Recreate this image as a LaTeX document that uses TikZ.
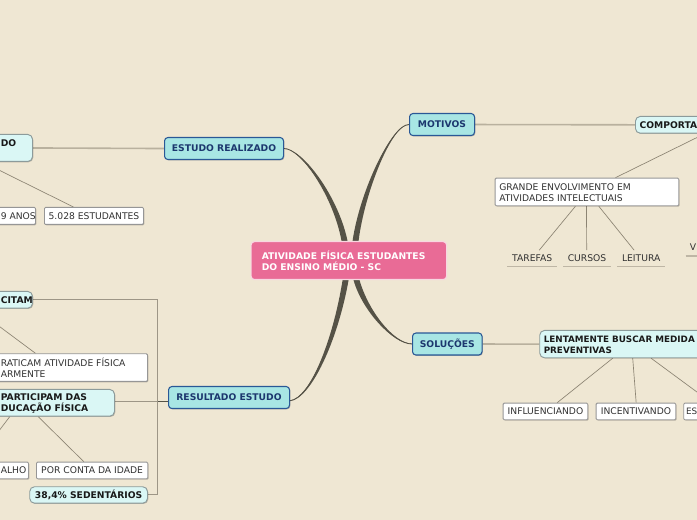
\documentclass[tikz,border=0pt]{standalone}
\usepackage{fontspec}
\setmainfont{DejaVu Sans}
\usetikzlibrary{calc,shadows}
\definecolor{bgc}{RGB}{239,231,211}
\definecolor{primf}{RGB}{168,230,228}
\definecolor{primb}{RGB}{42,88,150}
\definecolor{primt}{RGB}{28,55,110}
\definecolor{secf}{RGB}{218,247,245}
\definecolor{secb}{RGB}{140,155,155}
\definecolor{leafb}{RGB}{150,150,150}
\definecolor{leaft}{RGB}{50,50,50}
\definecolor{cenf}{RGB}{233,107,150}
\definecolor{cenb}{RGB}{248,215,225}
\definecolor{curvec}{RGB}{85,82,70}
\definecolor{thinc}{RGB}{140,132,115}
\definecolor{mainc}{RGB}{185,177,158}
\definecolor{ulc}{RGB}{190,182,165}
\pgfdeclarelayer{back}\pgfdeclarelayer{lines}\pgfsetlayers{back,lines,main}
\newcommand\bx[6]{\node[#2, anchor=north west, minimum width={(#5-#3)*0.75pt}, minimum height={(#6-#4)*0.75pt}, inner sep=0pt] (#1) at (#3,#4) {};}
\tikzset{
 shd/.style={drop shadow={shadow xshift=0.6pt,shadow yshift=-0.6pt,opacity=0.22,fill=black}},
 prim/.style={draw=primb, fill=primf, line width=0.8pt, rounded corners=2.5pt, shd},
 sec/.style={draw=secb, fill=secf, line width=0.7pt, rounded corners=3.5pt, shd},
 leaf/.style={draw=leafb, fill=white, line width=0.7pt, rounded corners=0.8pt, shd},
 cen/.style={draw=cenb, fill=cenf, line width=0.9pt, rounded corners=2.5pt},
 tp/.style={font=\fontsize{6.9}{8.3}\selectfont\bfseries, text=primt, inner sep=0pt},
 ts/.style={font=\fontsize{6.9}{8.3}\selectfont\bfseries, text=black!90, inner sep=0pt, align=left},
 tl/.style={font=\fontsize{6.9}{8.3}\selectfont, text=leaft, inner sep=0pt, align=left},
 tc/.style={font=\fontsize{6.9}{8.3}\selectfont\bfseries, text=white, inner sep=0pt, align=left},
 thinl/.style={draw=thinc, line width=0.5pt},
 mainl/.style={draw=mainc, line width=1.2pt},
 brk/.style={draw=mainc!85!black, line width=0.8pt},
 ull/.style={draw=ulc, line width=0.8pt},
 uleaf/.style={font=\fontsize{6.9}{8.3}\selectfont, text=leaft, inner sep=0pt, minimum height={16*0.75pt}},
}
\begin{document}
\begin{tikzpicture}[x=0.75pt,y=-0.75pt]
\useasboundingbox (0,0) rectangle (697,520);
\clip (0,0) rectangle (697,520);
\begin{pgfonlayer}{back}
\fill[bgc] (-10,-10) rectangle (710,530);
\end{pgfonlayer}

% central and main topics
\bx{c}{cen}{250.5}{241}{446}{279}
\node[tc, anchor=west] (ct) at (261.5,261) {ATIVIDADE FÍSICA ESTUDANTES\\DO ENSINO MÉDIO - SC};
\bx{er}{prim}{164}{137}{283}{159}
\node[tp] (ert) at (er.center) {ESTUDO REALIZADO};
\bx{mot}{prim}{409}{113}{474}{135}
\node[tp] (mott) at (mot.center) {MOTIVOS};
\bx{sol}{prim}{412}{332.5}{481.5}{354.5}
\node[tp] (solt) at (sol.center) {SOLUÇÕES};
\bx{res}{prim}{168}{386}{289}{408}
\node[tp] (rest) at (res.center) {RESULTADO ESTUDO};

% left upper
\bx{do}{sec}{-40}{134}{32}{161}
\node[ts, anchor=west] (dot) at (0.5,143.3) {DO};
\bx{anos}{leaf}{-40}{207}{35}{224}
\node[tl, anchor=west] (anost) at (0.5,216) {9 ANOS};
\bx{est}{leaf}{44}{207}{143}{224}
\node[tl] (estt) at (est.center) {5.028 ESTUDANTES};

% left lower
\bx{cit}{sec}{-40}{291}{32}{307.7}
\node[ts, anchor=west] (citt) at (0.5,300) {CITAM};
\bx{nao}{leaf}{-40}{353.3}{147}{381}
\node[tl, anchor=west] (naot) at (0.5,367.8) {RATICAM ATIVIDADE FÍSICA\\ARMENTE};
\bx{par}{sec}{-40}{389}{114}{415.7}
\node[ts, anchor=west] (part) at (0.5,403.3) {PARTICIPAM DAS\\DUCAÇÃO FÍSICA};
\bx{alho}{leaf}{-40}{461.7}{28}{478.3}
\node[tl, anchor=west] (alhot) at (0.5,470) {ALHO};
\bx{idade}{leaf}{36}{461.7}{147.3}{478.3}
\node[tl] (idadet) at (idade.center) {POR CONTA DA IDADE};
\bx{sed}{sec}{29.3}{486.3}{147}{502.7}
\node[ts] (sedt) at (sed.center) {38,4\% SEDENTÁRIOS};

% right upper
\bx{comp}{sec}{635}{116}{760}{132.7}
\node[ts, anchor=west] (compt) at (639.3,125) {COMPORTA};
\bx{gr}{leaf}{494.7}{177.7}{678.3}{205.3}
\node[tl, anchor=west] (grt) at (499,192.7) {GRANDE ENVOLVIMENTO EM\\ATIVIDADES INTELECTUAIS};
\node[uleaf, minimum width={49*0.75pt}] (tar) at (532.2,258.5) {TAREFAS};
\node[uleaf, minimum width={47.4*0.75pt}] (cur) at (587,258.5) {CURSOS};
\node[uleaf, minimum width={47.7*0.75pt}] (lei) at (641.2,258.5) {LEITURA};
\node[uleaf, anchor=south west, minimum width={60*0.75pt}] (vv) at (685.7,256) {};
\node[tl, anchor=west] (vvt) at (689.5,247.5) {V};

% right lower
\bx{len}{sec}{539.3}{330}{760}{357.3}
\node[ts, anchor=west, font=\fontsize{6.6}{8.3}\selectfont\bfseries] (lent) at (543.5,344.5) {LENTAMENTE BUSCAR MEDIDA\\PREVENTIVAS};
\bx{inf}{leaf}{502.7}{402.7}{587.3}{419.3}
\node[tl] (inft) at (inf.center) {INFLUENCIANDO};
\bx{inc}{leaf}{595.7}{402.7}{675.3}{419.3}
\node[tl] (inct) at (inc.center) {INCENTIVANDO};
\bx{es}{leaf}{683.3}{402.7}{760}{419.3}
\node[tl, anchor=west, font=\fontsize{6.6}{8.3}\selectfont] (est2) at (685.8,411) {ES};

\begin{pgfonlayer}{lines}
% tapered main branches
\fill[curvec] (er.east) .. controls (300,148) and (333,195) .. ($(c.north)+(-7.3,0)$)
  -- ($(c.north)+(-1.3,0)$) .. controls (338,195) and (301,147) .. ($(er.east)+(0,0.4)$) -- cycle;
\fill[curvec] (mot.west) .. controls (392,124) and (360,190) .. ($(c.north)+(3.7,0)$)
  -- ($(c.north)+(9.7,0)$) .. controls (365,190) and (393,123) .. ($(mot.west)+(0,0.4)$) -- cycle;
\fill[curvec] (sol.west) .. controls (392,343.5) and (362,310) .. ($(c.south)+(4.7,0)$)
  -- ($(c.south)+(10.7,0)$) .. controls (368,310) and (393,343) .. ($(sol.west)+(0,-0.4)$) -- cycle;
\fill[curvec] ($(res.east)+(0,3)$) .. controls (310,398) and (333,340) .. ($(c.south)+(-6.3,0)$)
  -- ($(c.south)+(-0.3,0)$) .. controls (338,340) and (311,399) .. ($(res.east)+(0,3.4)$) -- cycle;
\draw[curvec, line width=0.6pt] (er.east) .. controls (300,148) and (335,195) .. ($(c.north)+(-4.3,0)$);
\draw[curvec, line width=0.6pt] (mot.west) .. controls (392,124) and (362,190) .. ($(c.north)+(6.7,0)$);
\draw[curvec, line width=0.6pt] (sol.west) .. controls (392,343.5) and (365,310) .. ($(c.south)+(7.7,0)$);
\draw[curvec, line width=0.6pt] ($(res.east)+(0,3.2)$) .. controls (310,398.5) and (335,340) .. ($(c.south)+(-3.3,0)$);

% sub-topic connectors
\draw[mainl] (er.west) -- (do.east);
\draw[mainl] (mot.east) -- (comp.west);
\draw[mainl] (sol.east) -- (len.west);
\draw[thinl] ($(do.south)+(-14,0)$) -- ($(est.north)+(-20.5,0)$);
\draw[thinl] ($(cit.south)+(-21,0)$) -- ($(nao.north)+(-18.5,0)$);
\draw[thinl] ($(par.south)+(-27.7,0)$) -- ($(alho.north)+(-19,0)$);
\draw[thinl] ($(par.south)+(0.7,0)$) -- ($(idade.north)+(-8.3,0)$);
\draw[thinl] ($(comp.south)+(6.9,0)$) -- ($(gr.north)+(28.5,0)$);
\draw[thinl] ($(gr.south)+(-11.5,0)$) -- ($(tar.north)+(7,0)$);
\draw[thinl] ($(gr.south)+(-0.5,0)$) -- ($(cur.north)+(-0.3,0)$);
\draw[thinl] ($(gr.south)+(11.8,0)$) -- ($(lei.north)+(-7,0)$);
\draw[thinl] ($(len.south)+(-37.4,0)$) -- ($(inf.north)+(11.7,0)$);
\draw[thinl] ($(len.south)+(-17.4,0)$) -- ($(inc.north)+(0.2,0)$);
\draw[thinl] ($(len.south)+(1,0)$) -- ($(es.north)+(-10.7,0)$);
% bracket of RESULTADO ESTUDO
\coordinate (bt) at (157.5,299.5);
\coordinate (bb) at (157.5,494.5);
\coordinate (bm) at (157.5,401.5);
\draw[brk] (cit.east |- bt) -- (bt) -- (bb) -- (sed.east |- bb);
\draw[brk] (par.east |- bm) -- (bm);
\draw[curvec, line width=0.9pt] (bm) -- (res.west |- bm);
% underlines
\draw[ull] (tar.south west) -- (tar.south east);
\draw[ull] (cur.south west) -- (cur.south east);
\draw[ull] (lei.south west) -- (lei.south east);
\draw[ull] (vv.south west) -- (vv.south east);
\end{pgfonlayer}
\end{tikzpicture}
\end{document}
